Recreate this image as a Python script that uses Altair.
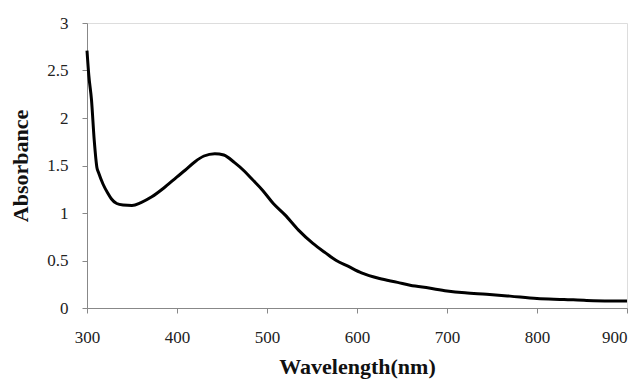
import altair as alt
import pandas as pd

wavelength = [300, 302, 305, 308, 311, 313, 318, 323, 327, 333, 340, 350, 360, 372, 385,
              400, 409, 420, 430, 442, 452, 464, 475, 483, 495, 507, 520, 535, 551, 565,
              577, 590, 605, 625, 645, 659, 680, 700, 720, 744, 770, 800, 830, 855, 880, 900]
absorbance = [2.71, 2.45, 2.19, 1.77, 1.48, 1.42, 1.30, 1.21, 1.15, 1.10, 1.085, 1.08, 1.11, 1.17, 1.26,
              1.38, 1.45, 1.54, 1.60, 1.625, 1.61, 1.53, 1.44, 1.36, 1.24, 1.10, 0.98, 0.82, 0.68, 0.58,
              0.50, 0.44, 0.37, 0.31, 0.27, 0.24, 0.21, 0.18, 0.16, 0.145, 0.125, 0.10, 0.09, 0.08, 0.075, 0.075]

x_ticks = [300, 400, 500, 600, 700, 800, 900]
y_ticks = [0, 0.5, 1, 1.5, 2, 2.5, 3]

df = pd.DataFrame({"Wavelength": wavelength, "Absorbance": absorbance})

font = "Liberation Serif"

chart = alt.Chart(df).mark_line(color="black", strokeWidth=3, interpolate="monotone").encode(
    x=alt.X("Wavelength:Q",
            scale=alt.Scale(domain=[300, 900], nice=False, zero=False),
            axis=alt.Axis(values=x_ticks, title="Wavelength(nm)", grid=False, format="d",
                          labelFlush=False, labelOverlap=False,
                          labelAlign={"condition": {"test": "datum.value >= 900", "value": "right"}, "value": "center"},
                          labelFont=font, labelFontSize=17, labelColor="#222",
                          labelPadding=16, tickSize=5, tickColor="#888", domainColor="#888",
                          titleFont=font, titleFontSize=22, titleFontWeight="bold",
                          titleColor="#111", titlePadding=11)),
    y=alt.Y("Absorbance:Q",
            scale=alt.Scale(domain=[0, 3], nice=False),
            axis=alt.Axis(values=y_ticks, title="Absorbance", grid=False, format="~g",
                          labelFlush=False, labelOverlap=False,
                          labelFont=font, labelFontSize=17, labelColor="#222",
                          labelPadding=14, tickSize=5, tickColor="#888", domainColor="#888",
                          titleFont=font, titleFontSize=22, titleFontWeight="bold",
                          titleColor="#111", titlePadding=14)),
).properties(
    width=540, height=285,
    autosize=alt.AutoSizeParams(type="none"),
    padding={"left": 79, "top": 15, "right": 5, "bottom": 74},
).configure_view(stroke=None).configure(background="white")

chart.save("out.html", embed_options={"renderer": "svg", "actions": False})
